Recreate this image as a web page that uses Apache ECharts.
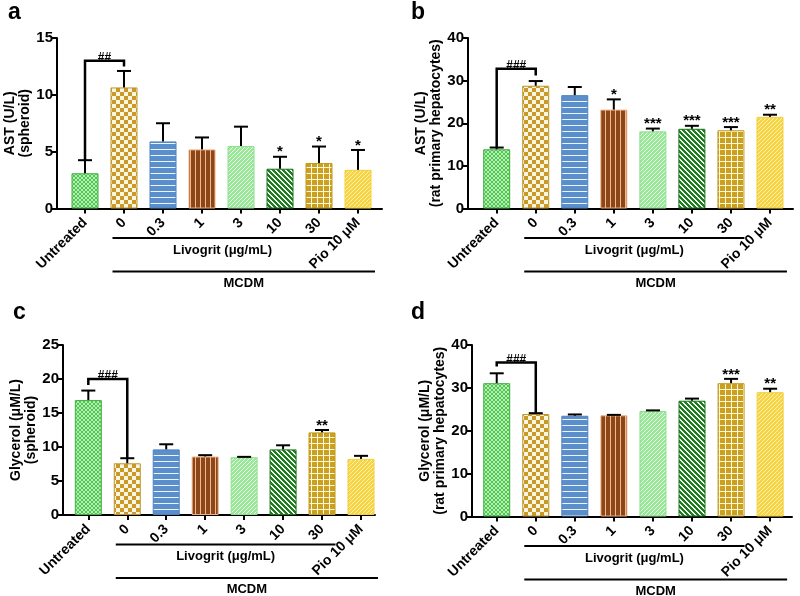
<!DOCTYPE html>
<html><head><meta charset="utf-8">
<script src="https://cdn.jsdelivr.net/npm/echarts@6/dist/echarts.min.js"></script>
<style>html,body{margin:0;padding:0;background:#fff}#c{width:800px;height:596px}</style>
</head><body><div id="c"></div>
<script>
// ---------- data ----------
const categories = ['Untreated', '0', '0.3', '1', '3', '10', '30', 'Pio 10 μM'];

const astSpheroid    = [3.1, 10.65, 5.9, 5.2, 5.5, 3.5, 4.0, 3.4];
const astSpheroidErr = [4.25, 12.1, 7.5, 6.25, 7.2, 4.55, 5.45, 5.15];
const astSpheroidSig = ['', '', '', '', '', '*', '*', '*'];
const astSpheroidBracket = [0, 1, 13.0, 4.25, 12.5];

const astHep    = [13.9, 28.8, 26.6, 23.2, 18.1, 18.7, 18.35, 21.5];
const astHepErr = [14.3, 29.9, 28.5, 25.6, 18.75, 19.4, 19.1, 22.0];
const astHepSig = ['', '', '', '*', '***', '***', '***', '**'];
const astHepBracket = [0, 1, 32.8, 14.3, 31.2];

const glySpheroid    = [16.9, 7.6, 9.65, 8.6, 8.5, 9.65, 12.15, 8.25];
const glySpheroidErr = [18.3, 8.35, 10.4, 8.8, 8.55, 10.25, 12.5, 8.7];
const glySpheroidSig = ['', '', '', '', '', '', '**', ''];
const glySpheroidBracket = [0, 1, 20.0, 19.1, 8.35];

const glyHep    = [31.1, 23.9, 23.5, 23.6, 24.6, 27.0, 31.1, 29.0];
const glyHepErr = [33.4, 24.1, 23.8, 23.7, 24.75, 27.5, 32.1, 29.8];
const glyHepSig = ['', '', '', '', '', '', '***', '**'];
const glyHepBracket = [0, 1, 35.9, 35.0, 24.1];

const yTitles = ['AST (U/L)\n(spheroid)', 'AST (U/L)\n(rat primary hepatocytes)',
                 'Glycerol (μM/L)\n(spheroid)', 'Glycerol (μM/L)\n(rat primary hepatocytes)'];
const bracketLabels = ['##', '###', '###', '###'];
const panelLetters = ['a', 'b', 'c', 'd'];
const groupLabel1 = 'Livogrit (μg/mL)';
const groupLabel2 = 'MCDM';

// ---------- styles / layout ----------
const FONT = '"Liberation Sans", Arial, Helvetica, sans-serif';

function tile(size, bg, draw) {
  const c = document.createElement('canvas');
  c.width = size; c.height = size;
  const g = c.getContext('2d');
  g.fillStyle = bg; g.fillRect(0, 0, size, size);
  draw(g, size);
  return c;
}
const barStyles = [
  { border: '#3fb03f', img: tile(4, '#52c852', (g, s) => { g.fillStyle = '#b4eeb4'; for (let i = 0; i < s; i++) { g.fillRect(i, i, 1, 1); g.fillRect(s - 1 - i, i, 1, 1); } }) },
  { border: '#c0952a', img: tile(8, '#c99a2b', (g, s) => { g.fillStyle = '#fdf6de'; g.fillRect(0, 0, 4, 4); g.fillRect(4, 4, 4, 4); }) },
  { border: '#4d82c0', img: tile(6, '#5a8fcc', (g, s) => { g.fillStyle = '#eef4fb'; g.fillRect(0, 5, s, 1); }) },
  { border: '#f0b080', img: tile(5, '#8b461a', (g, s) => { g.fillStyle = '#f3b98c'; g.fillRect(0, 0, 1, s); }) },
  { border: '#8ee08e', img: tile(4, '#9be69b', (g, s) => { g.fillStyle = '#e4fbe4'; for (let i = 0; i < s; i++) { g.fillRect(i, s - 1 - i, 1, 1); } }) },
  { border: '#1c731c', img: tile(5, '#1f7d1f', (g, s) => { g.fillStyle = '#f2fff2'; for (let i = 0; i < s; i++) { g.fillRect(i, i, 1, 1); g.fillRect((i + 1) % s, i, 1, 1); } }) },
  { border: '#c39a1c', img: tile(6, '#c9a01f', (g, s) => { g.fillStyle = '#fff7dc'; g.fillRect(0, 5, s, 1); g.fillRect(5, 0, 1, s); }) },
  { border: '#f3cf3c', img: tile(4, '#f6d447', (g, s) => { g.fillStyle = '#fff1a8'; for (let i = 0; i < s; i++) { g.fillRect(i, s - 1 - i, 1, 1); } }) }
];

const panels = [
  { vals: astSpheroid, err: astSpheroidErr, sig: astSpheroidSig, br: astSpheroidBracket,
    grid: { left: 57, top: 38, width: 325, height: 170.5 }, xMin: -0.718, xMax: 7.615, yMax: 15, yInt: 5, nameGap: 21, lx: 8, ly: 1 },
  { vals: astHep, err: astHepErr, sig: astHepSig, br: astHepBracket,
    grid: { left: 468, top: 38, width: 325, height: 170.5 }, xMin: -0.735, xMax: 7.59, yMax: 40, yInt: 10, nameGap: 24, lx: 411, ly: 1 },
  { vals: glySpheroid, err: glySpheroidErr, sig: glySpheroidSig, br: glySpheroidBracket,
    grid: { left: 63, top: 345, width: 312, height: 170 }, xMin: -0.65, xMax: 7.36, yMax: 25, yInt: 5, nameGap: 23, lx: 13, ly: 301 },
  { vals: glyHep, err: glyHepErr, sig: glyHepSig, br: glyHepBracket,
    grid: { left: 472, top: 345, width: 320, height: 171.5 }, xMin: -0.633, xMax: 7.56, yMax: 40, yInt: 10, nameGap: 24, lx: 411, ly: 301 }
];

const idx = categories.map((_, i) => i);
const grids = [], xAxes = [], yAxes = [], series = [];

panels.forEach((p, k) => {
  grids.push(Object.assign({ containLabel: false }, p.grid));
  xAxes.push({
    type: 'value', gridIndex: k, min: p.xMin, max: p.xMax,
    splitLine: { show: false },
    axisLine: { show: true, onZero: false, lineStyle: { color: '#000', width: 2 } },
    axisTick: { show: true, customValues: idx, length: 5, lineStyle: { color: '#000', width: 2 } },
    axisLabel: { customValues: idx, rotate: 45, margin: 12, color: '#000', fontWeight: 'bold', fontSize: 14, fontFamily: FONT,
      formatter: v => categories[Math.round(v)] }
  });
  yAxes.push({
    type: 'value', gridIndex: k, min: 0, max: p.yMax, interval: p.yInt,
    splitLine: { show: false },
    axisLine: { show: true, onZero: false, lineStyle: { color: '#000', width: 2 } },
    axisTick: { show: true, length: 5, lineStyle: { color: '#000', width: 2 } },
    axisLabel: { margin: 4, color: '#000', fontWeight: 'bold', fontSize: 15, fontFamily: FONT },
    name: yTitles[k], nameLocation: 'middle', nameGap: p.nameGap,
    nameTextStyle: { color: '#000', fontWeight: 'bold', fontSize: 14, lineHeight: 15, fontFamily: FONT }
  });
  series.push({
    type: 'bar', xAxisIndex: k, yAxisIndex: k, barWidth: 27, silent: true,
    data: p.vals.map((v, i) => ({
      value: [i, v],
      itemStyle: { color: { image: barStyles[i].img, repeat: 'repeat' }, borderColor: barStyles[i].border, borderWidth: 1 }
    }))
  });
  series.push({
    type: 'custom', xAxisIndex: k, yAxisIndex: k, silent: true, z: 5,
    data: p.vals.map((v, i) => [i, v, p.err[i]]),
    renderItem: (params, api) => {
      const x = api.value(0), v = api.value(1), t = api.value(2);
      const a = api.coord([x, v]), b = api.coord([x, t]);
      const st = { stroke: '#000', lineWidth: 2 };
      const ch = [
        { type: 'line', shape: { x1: a[0], y1: a[1], x2: b[0], y2: b[1] }, style: st },
        { type: 'line', shape: { x1: b[0] - 7, y1: b[1], x2: b[0] + 7, y2: b[1] }, style: st }
      ];
      const s = p.sig[params.dataIndex];
      if (s) ch.push({ type: 'text', x: b[0], y: b[1] + 3, style: { text: s, fill: '#000', font: 'bold 15px ' + FONT, align: 'center', verticalAlign: 'bottom' } });
      return { type: 'group', children: ch };
    }
  });
  series.push({
    type: 'custom', xAxisIndex: k, yAxisIndex: k, silent: true, z: 6,
    data: [p.br],
    renderItem: (params, api) => {
      const x1 = api.value(0), x2 = api.value(1), y = api.value(2), yl = api.value(3), yr = api.value(4);
      const pl = api.coord([x1, yl]), pt1 = api.coord([x1, y]), pt2 = api.coord([x2, y]), pr = api.coord([x2, yr]);
      return { type: 'group', children: [
        { type: 'polyline', shape: { points: [pl, pt1, pt2, pr] }, style: { stroke: '#000', lineWidth: 2.5, fill: null } },
        { type: 'text', x: (pt1[0] + pt2[0]) / 2, y: pt1[1] + 3, style: { text: bracketLabels[k], fill: '#000', font: 'bold 12px ' + FONT, align: 'center', verticalAlign: 'bottom' } }
      ] };
    }
  });
});

const chart = echarts.init(document.getElementById('c'), null, { renderer: 'canvas' });
chart.setOption({ animation: false, backgroundColor: '#fff', grid: grids, xAxis: xAxes, yAxis: yAxes, series: series });

// group annotations below x-axes
const gfx = [];
panels.forEach((p, k) => {
  const px = v => chart.convertToPixel({ xAxisIndex: k }, v);
  const y0 = chart.convertToPixel({ yAxisIndex: k }, 0);
  const xs = px(1) - 11.5, xe1 = px(6) + 13.5, xe2 = px(7) + 17;
  gfx.push({ type: 'line', shape: { x1: xs, y1: y0 + 29.5, x2: xe1, y2: y0 + 29.5 }, style: { stroke: '#000', lineWidth: 2 } });
  gfx.push({ type: 'text', x: (xs + xe1) / 2, y: y0 + 41.5, style: { text: groupLabel1, fill: '#000', font: 'bold 13px ' + FONT, align: 'center', verticalAlign: 'middle' } });
  gfx.push({ type: 'line', shape: { x1: xs, y1: y0 + 63, x2: xe2, y2: y0 + 63 }, style: { stroke: '#000', lineWidth: 2 } });
  gfx.push({ type: 'text', x: (xs + xe2) / 2, y: y0 + 74.5, style: { text: groupLabel2, fill: '#000', font: 'bold 13px ' + FONT, align: 'center', verticalAlign: 'middle' } });
  gfx.push({ type: 'text', x: p.lx, y: p.ly, style: { text: panelLetters[k], fill: '#000', font: 'bold 23px ' + FONT, align: 'left', verticalAlign: 'top' } });
});
chart.setOption({ graphic: gfx });
</script>
</body></html>
